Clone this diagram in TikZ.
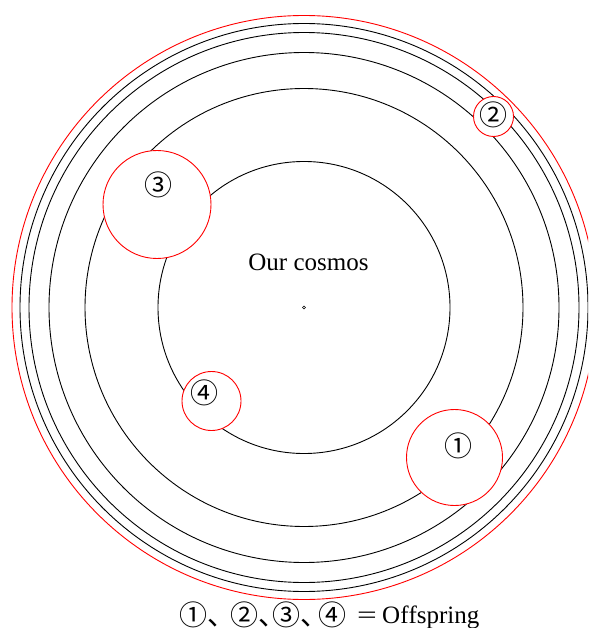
\documentclass[tikz,border=0pt]{standalone}
\usepackage{fontspec}
\setmainfont{Liberation Serif}
\newfontfamily\cjk{Noto Sans CJK JP}
\begin{document}
\begin{tikzpicture}[x=1pt,y=-1pt,
  orbit/.style={draw=black,line width=0.9pt},
  outer/.style={draw=red,line width=0.9pt},
  redc/.style={circle,draw=red,line width=0.9pt,fill=white,inner sep=0pt},
  lbl/.style={font=\cjk\fontsize{28}{28}\selectfont,inner sep=0pt},
  txt/.style={font=\fontsize{25}{25}\selectfont,inner sep=0pt,anchor=base}]
\useasboundingbox (0,0) rectangle (588,628);
\clip (0,0) rectangle (588,628);
\coordinate (c) at (304,307.5);
\foreach \r in {146,219,255,275,284} \draw[orbit] (c) circle (\r pt);
\draw[outer] (c) circle (292pt);
\node[circle,draw,inner sep=0pt,minimum size=3pt,line width=0.5pt] (dot) at (c) {};
\node[txt] (cosmos) at (308.5,270) {Our cosmos};
% offspring circles
\node[redc,minimum size=96pt] (o1) at (454.5,457.5) {};
\node[redc,minimum size=40pt] (o2) at (493.5,116.5) {};
\node[redc,minimum size=108pt] (o3) at (157,204.5) {};
\node[redc,minimum size=59pt] (o4) at (211.5,401) {};
\node[lbl] (l1) at (458,446) {①};
\node[lbl] (l2) at (493,115) {②};
\node[lbl] (l3) at (158,185) {③};
\node[lbl] (l4) at (204,393) {④};
% legend
\node[lbl,anchor=west] (k1) at (179,615) {①、};
\node[lbl,anchor=west] (k2) at (230.5,615) {②、};
\node[lbl,anchor=west] (k3) at (272,615) {③、};
\node[lbl,anchor=west] (k4) at (318,615) {④};
\node[txt] (eq) at (367,623) {\scalebox{1.4}[1]{=}};
\node[txt,anchor=base west] (off) at (382,623) {Of\kern0ptfspring};
\end{tikzpicture}
\end{document}
